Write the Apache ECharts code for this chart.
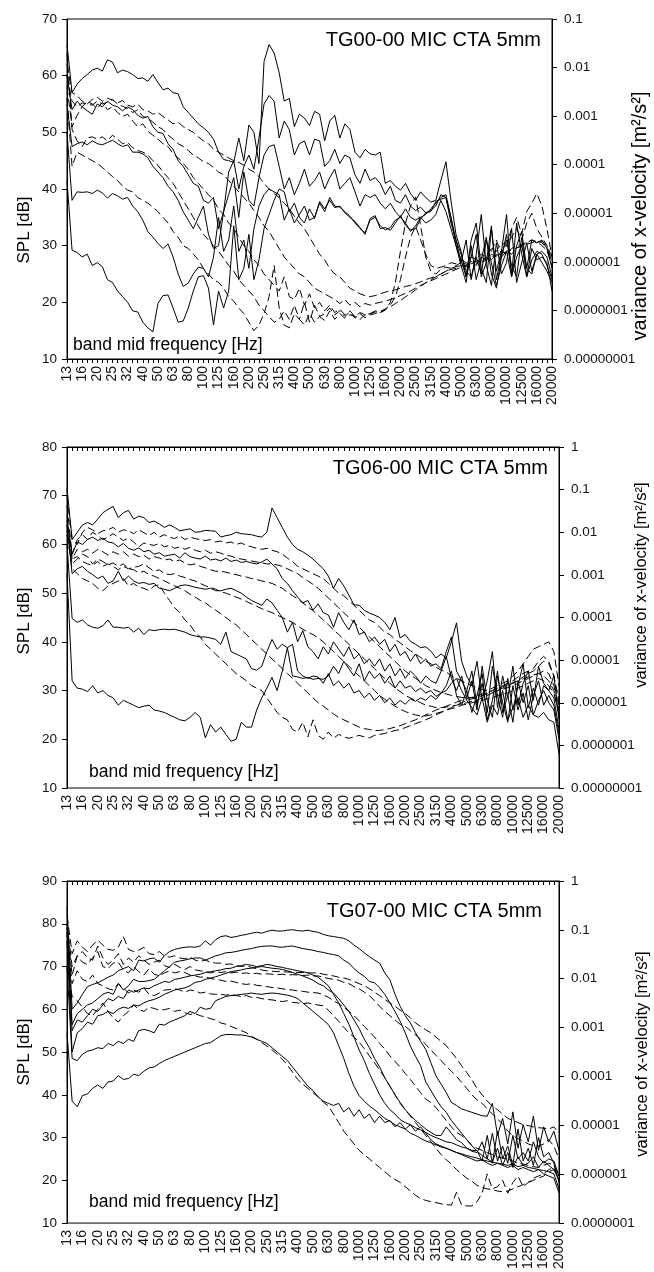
<!DOCTYPE html>
<html><head><meta charset="utf-8">
<script src="https://cdn.jsdelivr.net/npm/echarts@6/dist/echarts.min.js"></script>
<style>html,body{margin:0;padding:0;background:#fff}#c{width:654px;height:1272px}</style>
</head><body><div id="c"></div>
<script>
// x categories: 1/3-octave band labels, each subdivided into 3 steps
const freqLabels = ['13','16','20','25','32','40','50','63','80','100','125','160','200','250','315','400','500','630','800','1000','1250','1600','2000','2500','3150','4000','5000','6300','8000','10000','12500','16000','20000'];
const varianceTickLabels = ['0.00000001','0.0000001','0.000001','0.00001','0.0001','0.001','0.01','0.1','1'];
const titles = ['TG00-00 MIC CTA 5mm','TG06-00 MIC CTA 5mm','TG07-00 MIC CTA 5mm'];

// ---- Panel 1 (TG00-00) ----
const p1s1 = [65.5,57,58.5,59.5,60.2,61,61.3,60.8,62.8,62.4,
60.5,61,60.7,60.2,59.5,59.6,59,60.2,58.8,57.5,
57.8,57,56.8,54.5,53.5,52.5,51.5,50.8,50,48.8,
46.5,45.2,45,44.7,49,45,51.3,50,44.5,62.5,
65.5,64,60.5,55.5,56,51,53.2,52.5,51.2,53.7,
53.2,48.5,52,53,49,51.5,50.5,46.5,45.5,47,
46.2,46,46.5,41,41.5,40.5,39.8,41,39.2,38,
39.5,38.5,37.7,38,41.5,44.8,38,32,29,24.5,
31,34,26,23.5,33,25.5,29,35.5,24.5,30,
32.5,26,31,30.5,31,29.5,26];
const p1s2 = [60,54,55.5,54.5,53.8,53.2,55,54.5,55.5,54.8,
54.5,53.8,54.5,54,53,52.5,52.8,51,50,49.8,
48,47,45,44,42.5,41,40.5,38,37.5,38.5,
33,36,43,45,40,44,46,43.5,49,55,
56.5,55.5,49,52,50.5,46,48,48.5,46,48.8,
48.5,44,45,47,44.5,46,45.5,42.5,41,43.5,
41.5,42,41,39,40.5,38,37.5,39,37,36.2,
36.8,35.8,36.2,37,39,38.5,35,31,27,31,
24,28.5,35.5,26.5,23,30.5,25,27,33,23.5,
27,30.5,25.5,28.5,29,28,24.5];
const p1s3 = [55,47.5,48,48.3,47.8,48.5,48,47.8,48.2,48.6,
48,47.5,47.8,46.5,46.5,46.2,45.5,44,43,42,
40.5,39.5,38,36,34.5,33,35,37,32,29.5,
30,36,39,42,35,43,38,37,42,46,
47.5,47.8,44,40,42,39,41,43.5,40.5,41.5,
43,40,42,43.5,40,41,42,39.5,37,39,
38.5,39,37.5,36.5,37.5,36,35,36.5,35,34.5,
35,34,34.5,35.5,38,36,33,30,26.5,23.5,
30,24,27.5,31.5,25,22.5,28,32,25,34,
28.5,24.5,29.5,27.5,28,27,22];
const p1s4 = [50,38,39.5,39.4,39.5,39.2,39.8,39.3,38.4,39.2,
38.8,38.2,38.5,37,36,34.5,32.5,31.5,30.4,29.5,
30.3,28,25,22.8,23.4,25,26.2,26,24.5,28,
35,29,31,37,29,31,26,33,37,39,
40,39.5,39,34.5,36.5,34,35.5,37,34.5,35,
37.5,36,38.5,37,36.8,36,35.2,34,33,32.3,
34.5,35,33.5,32.8,33.2,34.5,35,34,32.5,33.5,
35,35.5,36.5,37.5,38.5,39,35,30,27.5,24.5,
28,32,24.5,27,33.5,24,28.5,31,26.5,24.5,
31.5,24.5,27.5,29,28.5,26.5,24];
const p1s5 = [41.5,29.2,28.8,28,28.5,26.5,27,26.3,24,23.5,
22,21,20,18.5,18.3,16.5,15.5,14.8,19.8,21.2,
21.3,19,16.5,16.7,19,22,24.5,24.7,22.5,16,
22,19,22,33.5,24,26,32,24,27.5,33,
35.5,38,40,39.5,36,37.5,35,34,36.5,34.8,
37.8,36.5,38,36.7,37,35.8,35,34.3,33.2,32,
34.8,35.3,33,33.2,32.7,34,35.3,33.6,32.8,33,
34.7,35.8,36,37.8,38.2,38.5,34,31,28.5,25.5,
24.5,28,25,31,27,23,26.5,29,24.5,28,
30,26,25,28.5,27,25.5,23.5];
const p1d1 = [62,57,56.5,55.5,55,55.8,56.2,55.5,56,55.7,
55.2,55.6,54.8,54.5,55,54,53.8,53.2,53.5,52.8,
52.2,51.5,51.8,51,50.5,50,49.2,48.5,48,47,
46.5,46,45.5,45,44.7,44.2,43.5,43,42.2,41,
40,39.2,38.5,37.5,36.5,35.2,34,33,31.5,30,
28.5,27.5,26,25,24.5,23.5,22.5,22,21.5,21.2,
21,21.2,21.5,21.8,22,22.2,22.5,22.8,23,23.3,
23.6,24,24.3,24.6,25,25.5,25.8,26,26.5,26.3,
26.8,27.2,27,27.5,28,28.3,28.5,29,29.3,29.6,
30,30.3,30.5,30.8,30.5,29.5,27.5];
const p1d2 = [60,55.5,54.5,55.2,55,54.8,55.5,55,55.3,55.8,
55,54.6,54.2,53.5,54,52.8,52.5,51.8,51,50.5,
49.5,48.8,48,47.5,46.8,46,45.5,44.8,44.5,43.8,
43,42.5,41.5,40.5,39.5,38.5,37.5,36.2,35,33.5,
32.5,31,29.5,28,27,26,25,24.5,23.5,22.5,
22,21.5,21,20.5,19.8,20.5,19.5,20,19.2,19.8,
19.5,19.8,20,20.2,20.5,20.8,21.2,21.6,22,22.5,
23,23.4,23.8,24.2,24.6,25,25.4,25.8,26.2,26.5,
27,26.5,28,27.5,28.5,28,29,28.5,29.5,30,
30.2,30.6,31,30.5,30.8,30,28];
const p1d3 = [58,51,53,54.5,55.5,55,54.2,55.3,54,54.5,
53.5,52.8,53.2,52,51,51.5,50.2,49.5,48.8,48,
47.5,46.2,45.5,44.5,43.5,42,41,40,39,38,
36.5,35.5,34,33,31.5,30,29,27.5,26.5,25,
24,23,22,24.5,21,20.5,22.5,19.5,21.5,19,
20,18.5,19.5,18.2,18.8,17.8,18.5,17.5,18.2,17.8,
18,18.3,18.2,18.6,20,23.5,29,34,37,38.6,
33.5,28,25.5,25,25.8,26.2,26,26.5,27,26.6,
27.2,26.8,28,27.5,29,31,28.5,30,33,35,
32,36,37.5,39.2,37,33,28];
const p1d4 = [64,50.5,48.5,47.5,49,49.2,48.8,49.2,48.5,49.5,
48.8,48,48.2,47.3,46.8,46.5,46,45,44.2,43,
42,41,39.5,38,36.5,35,33.5,32,31,30,
29,27.8,26.5,25.5,24,23,22,21,19.5,18.5,
17.5,16.5,17,18.5,17,19.5,17,16,18,16.5,
17.5,18,19,17.8,18.5,17.5,18.3,17.2,18,17.3,
17.8,18,18.4,18.8,19.5,21,24,28,31.5,33.4,
31,28.5,26.5,26,26.2,26.5,27,26.8,27.5,27,
28,27.6,28.5,28,29.5,29,30.5,30,31.5,33,
31,34,35.7,33,31.5,30,27];
const p1d5 = [56,44,46.5,46,45.5,45,44.5,43.8,43,42.2,
41.5,40.5,39.8,39.5,38.5,38,37.5,36.8,36,35,
34,32.5,31.5,30,29.5,28.5,27.5,26,25,24,
23.5,22.5,21,20.2,19,18,16.5,15,16,18,
21,26.5,19,16,15.5,18,17,20,16.5,19.5,
17.5,16.8,18.5,17,18,17.2,17.8,17.5,17,17.8,
18,18.5,18.2,18.8,19.2,19.8,20.3,21,21.5,22.2,
22.8,23.5,24,24.5,25,25.5,26,26.3,26.5,27,
26.5,27.5,27,28,27.5,28.5,28,29,28.5,29.5,
30,30.5,31,30.7,30,29.2,26.5];

// ---- Panel 2 (TG06-00) ----
const p2s1 = [71.5,61,62.5,64,64.5,64,65.2,66.5,67.2,67.8,
65.5,66.5,67,65.2,65.8,65.5,64.5,64.8,64.2,63.5,
64,63.5,62.8,63,63.2,62.5,62.6,62.9,62.8,62.7,
61.5,61.8,62,62.5,62.2,62.1,62,61.7,61.5,62.5,
67.5,65.5,63.5,61.5,60,59,58.5,57.8,57,56,
55,53.5,51,53,51.5,49.6,47.6,47.5,46.5,45.9,
45.5,45,44,42.5,45,40.8,41.5,40.1,39.5,38.8,
39,38.1,36.7,37.5,36.7,40,43.9,36,33,31,
36,28,32,38,26.5,33,28.5,35,27,31.5,
34,28,35,31.5,30,33,24];
const p2s2 = [65,58,60.5,60,61,61.5,60.8,61.3,60.5,60.3,
59.5,60.2,59.2,58.8,59.3,58.5,58.8,58,58.3,57.6,
57.8,58,57.2,58.3,57.5,57.2,57,57.6,56.8,57,
56.6,57.2,56.5,56.8,56.3,56.5,56.2,56,56.4,57,
56,55,53,52,50.5,49.2,48,48.5,46.5,47.8,
46,45.5,43,46,44,42.5,44.5,41.5,42,40,
41,39.5,40.5,38,39.5,37.2,38,36,37.5,35.5,
36.5,35,35.5,34.5,38,41,34,32,30,34,
27,31.5,25.5,35,29,24.5,32.5,26,31,35.5,
26.5,30.5,27,31,30,28.5,22];
const p2s3 = [64,54,55,55.5,54.5,53.8,53,53.5,52,52.5,
54.5,52.5,53.5,52.5,52,52.2,51.8,52,51,50.8,
50.5,51,51.5,51.7,51.5,51.2,51,50.8,51,50.5,
50.5,50.8,51,50.5,50,49.2,48.5,48,47.5,48.8,
48,46.5,45,42,44,40,42.3,39,38,36.5,
39,37.5,40,38.5,37,39,36.5,37.5,35.5,36.5,
35,36.5,34,35.5,33,34.5,32.5,34,33,31.5,
33,32,31.5,34,37,32.5,30,33,28.5,32,
26,35,28,24.5,33,27.5,23.5,31,26,29.5,
24,29,32,27,29,27,21];
const p2s4 = [60,44.8,44,44.5,43.5,43,42.8,43.3,44.5,43,
43,42.8,43,42,42.8,41.5,42.5,42.3,42.5,42.6,
42.5,42.6,42.3,42,41.5,41.2,41,41,40.8,40.5,
39.5,42,38,37.5,37,36.5,34.5,34.2,35,38,
40.5,38.5,39.5,38.8,33,32.8,32.5,32.7,32.3,32.5,
32.3,33,35,33.5,36,34.5,33,35.5,32,34,
32.5,33.5,31.5,33,30.5,32,30.5,31,29.8,30.5,
29.5,30,28.8,29.5,31,34,29,27,30,25.5,
29,33.5,24,28,34,25.5,29,23.5,32,27.5,
31,25,28,30,27.5,26,20];
const p2s5 = [54,32,30.5,30.3,29.8,31,29.5,30,29,28.5,
27,28,27.5,27,26.5,26.8,27,26,25.8,25.5,
25,24.5,24,23.8,24.5,25.5,24.5,20.3,23,21.5,
22.5,21,19.6,20,23.5,22.5,22.5,26,28.5,30.5,
32.7,30,34,38.8,39.5,34,33,32.5,33,32.8,
31.5,33.5,31,32,30.5,31.5,29.5,30,28.5,29.5,
28,29,27.5,28.5,27,28,27.2,28.3,27.8,28.5,
28,29,28.2,29.5,30,31.5,32.5,30,28,26.5,
25,28.5,23.5,27,25,30,24,26.5,28.5,24.5,
27,25,24.5,25.5,24,23.5,17];
const p2d1 = [70,61,60,62.5,63.5,63,62.2,62.8,63,63.5,
62.5,63,62.8,62.2,63,62.4,61.8,62.5,61.5,62,
61.5,61.2,61.8,61,61.5,61.2,61,60.8,61,60.5,
60.7,60.3,60.5,60,60.3,59.8,59.5,59.2,59,59.2,
58.8,58.5,58,57.2,56.5,55.5,55,54.5,54,53.5,
53,52,51,50,49.5,48.5,47.5,46.5,45.5,44.5,
44,43,42,41.5,40.5,39.8,39,38.2,37.5,36.8,
36,35.5,34.8,34.2,33.8,33,32.5,32,31.5,31,
30.5,30.2,30,30.5,31,31.5,32,33,34,35.5,
37,38.5,39,39.5,40,38,31];
const p2d2 = [68,58,61,62,61,62.5,61.8,61,61.5,62.2,
61.5,60.8,61.3,60.5,59.5,60.3,60,59.8,60.2,59.5,
59.8,59.2,59.5,59,59.4,58.8,58.5,58.8,58.2,58.5,
58.2,57.8,57.6,57.2,57,56.8,56.6,56.4,56.2,56,
56,55.8,55.5,55,54.5,54,53.2,52.5,51.8,51,
50,49,48,47,46,45,44,43,42,41,
40,39,38,37,36,35,34,33.2,32.5,31.8,
31,30.5,30,29.6,29.3,29,28.8,28.6,28.5,28.6,
28.5,29,29.5,30,30.5,31,31.5,32,32.8,33.5,
34,34.5,36,37,36,33,28];
const p2d3 = [66,57,59,58.5,59,58.2,59,58.5,57.8,58.5,
58,58.5,57.6,58,57.5,57.8,57,57.5,57.2,56.8,
57,56.5,56.8,56.2,55.8,56,55.5,55.2,54.8,54.5,
54.5,54.3,54,53.8,53.5,53.3,53,52.8,52.5,52.3,
52,51.5,51,50.2,49.5,48.8,48,47.2,46.4,45.5,
44.5,43.5,42.5,41.5,40.5,39.5,38.5,37.5,36.5,35.5,
34.5,33.5,32.5,31.5,30.5,29.8,29,28.5,28,27.5,
27,26.8,26.5,26.5,26.6,26.8,27,27.2,27.5,27.8,
28,28.5,29,29.5,30,30.5,31,31.5,32,32.8,
33.5,34,35,36,35.5,33,27];
const p2d4 = [64,57,57.5,56.5,56,55.7,56.5,55.5,56,55.5,
54.8,55.5,55,55.3,55.5,56,55.2,54.5,54.8,54,
53.8,54,53.5,53.2,52.8,52.5,52,51.5,51.2,50.8,
50.3,50,49.6,49.2,48.8,48.3,47.8,47.3,46.8,46.4,
46,45.5,45,44.5,44,43.3,42.6,42,41.5,40.8,
40,39,38,37,36,35,34,33,32,31,
30,29,28.2,27.5,26.8,26.2,25.7,25.3,25,24.8,
24.8,25,25.3,25.6,26,26.5,27,27.5,28,28.3,
28.5,29,29.3,29.6,30,30.3,30.6,31,31.5,32,
32.5,33,33.5,34,33.5,31,26];
const p2d5 = [62,55,54,53,52.5,52,51,50.5,51.5,52,
52.5,53,51.5,52,51.2,51,50.5,51.5,51.7,50,
48.5,47,46,44.5,43.5,42,41,39.5,38.5,37.5,
36.5,35.5,34.5,33.5,32.8,32,31,30.5,30,28.5,
27,25.5,24.5,24,22,21.5,23.5,20.5,24,20.8,
20,21.5,20.2,21,20.5,20.2,20.5,20.8,20.5,20.3,
20.8,21,21.2,21.5,21.8,22,22.4,22.8,23.2,23.6,
24,24.5,25,25.5,26,26.3,26.5,27,27.2,27.5,
27.8,28,28.3,28.5,29,29.3,29.5,30,30.5,31,
31.5,32,32.5,32,31,29.5,25];
const p2d6 = [63,56,57,58,57.5,56,57,56.5,55.8,56.2,
55.5,56,55,54.8,54.2,54.5,53.8,53.5,53,52.5,
52,51.5,51,50.5,49.8,49.2,48.5,48,47.2,46.5,
45.8,45,44.2,43.5,42.5,41.5,40.5,39.5,38.5,37.5,
36.5,35.5,34.5,33.5,32.5,31.5,30.5,29.5,28.5,27.5,
26.8,26,25.2,24.5,24,23.5,23,22.5,22.2,22,
21.8,21.8,22,22.2,22.5,22.8,23.2,23.6,24,24.5,
25,25.5,26,26.4,26.8,27.2,27.6,28,28.3,28.6,
29,29.3,29.6,30,30.4,30.8,31.2,31.6,32,32.4,
32.8,33.2,33.5,33,32,30,25];

// ---- Panel 3 (TG07-00) ----
const p3s1 = [84,60,61.5,63.5,65.3,65.8,66.2,66.8,67.5,68,
69,69.5,70,69,71.5,71.3,71.8,72,71,72.5,
73.5,74,74.3,74.5,74.6,74.5,74.8,76,75,76.3,
77,77.2,76.8,77,77.3,77.5,77.8,78,77.8,78.2,
78.5,78.3,78.3,78.5,78.6,78.4,78.3,78.5,78.2,78,
77.5,77.2,77,76.8,76.6,76,75,74.2,73.2,72.3,
71.5,70.8,68.5,66.9,63.5,60.7,58.5,56.8,54.5,52.5,
50.6,47.5,44.4,42.5,40.5,38.2,37.5,36.7,36.3,35.9,
35.5,35.1,35,38,30.5,34.5,28.5,36,27.5,33,
29,35,27,32.5,29,31.5,27];
const p3s2 = [80,56.4,59,60,61,61.5,62.5,63.5,64,63.5,
66,64.5,65.5,67,66.5,66.5,66.7,67,68,69,
70,71,71.3,71.5,71.8,72,72,71.5,72,72.5,
72.8,73.2,73.3,73.5,73.8,74,74.2,74.5,74.7,74.8,
74.8,74.6,74.5,74.7,74.8,74.5,74.2,74,73.8,73.5,
73.3,73,72.8,72.5,71.5,70.8,69.5,68.5,67.7,66.5,
66.2,65,63.5,61.5,59.5,57.2,54.5,51.4,49,46.8,
43,41,39,37.2,35.9,34,32.5,31,29.5,28.1,
26.8,25.8,25,24.3,27.5,23.5,26.5,23,25.5,23.5,
24,25.5,23,24.5,23.5,22.5,20];
const p3s3 = [78,55,57.5,57,58.5,60,59.5,61,62.5,62,
63,62.5,64.5,64,64.5,65,64.8,65.5,66,66.5,
66.3,67,67.2,67.5,67.8,68,68.2,68.6,68.8,69,
69.2,69.5,69.6,70,70.2,70.5,70.3,70,70.2,70.5,
70.3,70,69.8,69.5,69.3,69,68.8,68.5,68,67.5,
66.5,65.5,63.5,61.5,59,56.5,53.5,50.5,48,45,
42.5,40,38,36.5,35.5,34.2,33.5,33,32.3,31.8,
31.2,30.5,30,29.5,29,28.8,28.3,27.8,27.5,27,
27,24.5,30.5,24,31.5,25,28,23.5,32,24.5,
27.5,23.5,30,25.5,26.5,24,19.5];
const p3s4 = [76,50,54.5,55.5,57,56.5,58.5,58.8,59.5,59,
60,60.5,60.2,61,60.8,61.5,62,62.3,62.8,63.5,
64,64.5,64.8,65,65.5,66.3,66.5,67,67.3,67.6,
68,68.4,68.8,69,69.2,69.5,69.6,69.8,70,69.8,
69.6,69.5,69.3,69,68.6,68.2,67.8,67.3,66.8,66,
65.5,64.5,63.8,62.5,61,59.5,57.5,55.5,53,51,
48.5,46.5,44,42,40,38.2,36.5,35.2,34,33,
32,31.2,30.5,30.5,32.5,31,29.5,28.8,27.5,26.8,
26.5,29,25,31,24.5,28,24,30.5,25,26.5,
24.5,29,25.5,24,25,24.5,21];
const p3s5 = [70,48.5,48,49.5,50.2,50.5,51,50.8,52,51.5,
52.5,52,53,52.5,55,55.3,55,54.5,56.5,56.3,
57,57.5,58,58.5,59.5,59,60.5,60,60.2,62,
62.5,63,63.2,63.3,63.5,63.6,63.8,63.6,63.5,63.7,
63.8,63.7,63.5,63.3,63,62.5,61.5,60.5,59.5,58.5,
57.5,56.4,54.5,51.5,48.5,45,42,39.8,38.5,37.4,
36.5,35.5,34.5,33.8,33,32.5,32,31,30.5,29.8,
29.2,28.8,28.3,27.8,27.5,27,26.5,26.2,25.8,25.5,
25.2,24.8,24.5,24.2,24,23.8,23.5,23.8,23.2,23.5,
23,22.8,22.5,22.3,22,21.5,18];
const p3s6 = [54.5,38.5,37.2,39.8,40.2,41.5,42.3,41.5,43,43.2,
44.5,43.6,43.8,44.8,44.5,45.5,46.3,46.5,47.3,48,
48.5,49,49.5,50,50.5,51,51.5,52,52.2,53,
53.8,54.1,54.1,54,54,53.8,53.5,53,52.5,52,
51,50,49,48,46.5,45,43.5,42,41,39.5,
38.5,38,37.5,38,36,37,35,36.5,34.5,35.5,
33.5,35,33.5,34,32.5,33.5,32,33,31.5,32.5,
31,29.5,28.5,28,27.5,27,26.5,26,25.5,25,
24.5,24.8,24,23.5,24,23.5,23,23.5,22.5,23,
22.5,22,22.5,21.5,21,20.5,17];
const p3d1 = [82,73,76,74.5,73.5,75,76.2,75,74,73.8,
74.5,77,74,73.5,73.8,74.5,73,72.8,73.5,72.5,
72.2,72.5,72,71.8,72.2,71.5,71.2,71.5,71,70.8,
70.8,70.5,70.6,70.2,70,70.2,69.8,69.5,69.2,69,
68.9,68.8,68.8,68.7,68.7,68.6,68.6,68.5,68.5,68.5,
68.2,68,67.8,67.5,67.3,67,66.5,66,65.5,64.8,
64,63.2,62.3,61.5,60.7,59.8,59,58,56.8,56,
55.2,54.5,53.5,52.5,51.5,50,48.5,46.8,45.2,43.5,
41.5,40,38.5,37.4,36.5,35.5,34.5,34,33.5,33,
32.8,32.5,32.3,32.2,32,32.5,31];
const p3d2 = [80,70,72.5,73.5,72,71.5,74.8,72,70.5,71.5,
73,70.5,72,71,72.5,71.5,70.5,71,71.5,70.2,
69.8,70.5,69.8,69.3,70,69.2,69,68.8,68.5,68.8,
68.6,68.8,68.5,68.7,68.4,68.5,68.3,68.4,68.2,68.3,
68.2,68.1,68.2,68,68.1,68,67.9,68,67.8,67.8,
67.5,67.2,67,66.8,66.3,66,65.3,64.8,64,63.2,
62,60.7,59.5,58.5,57.5,56.5,56,55,54,53,
51.8,50.5,49.2,48,46.7,45.5,44.3,42.9,41.5,40,
38.8,38,36.7,35.5,34.3,33.2,31.5,30.5,29.7,29.2,
28.5,28.1,28,28.5,29.5,28,25];
const p3d3 = [79,68,72.5,71,70.5,72,73.5,70,69.5,70.8,
71,69.2,68.5,70,68.8,68,69.5,68.2,67.8,68.5,
69,68.5,68.8,68.6,68,67.8,67.5,67.6,67.2,67,
66.8,66.5,66.6,66.3,66,65.8,66,65.6,65.5,65.3,
65.1,65,64.8,64.6,64.5,64.3,64.2,64,63.9,63.8,
63.4,62.8,62,61.3,60.5,59.5,58.5,57.3,56,54.8,
53.5,52,50.7,49.1,47.8,46.5,45,43.6,42,40.5,
39,38.2,37,35.5,34,32.5,31.2,30.5,29.5,28.1,
27.5,27,26.5,26,25.5,25.2,25,24.5,24,23.8,
23.5,23.2,23,23.5,24,23.5,21];
const p3d4 = [78,66,69,67,66.5,68,66,65.5,64.8,64.5,
66,65,63.8,64.5,64,65,63.5,63.2,63.8,64.5,
64.6,64.8,64.5,64,64.5,64.3,63.8,64,63.6,63.5,
63.5,63.3,63.5,63.2,63,63.2,62.8,62.8,62.5,62.3,
62.2,62,61.8,62,61.6,61.5,61.3,61.5,61.2,61,
60.8,59.8,58.5,57.2,55.8,54.5,53.5,52.3,50.8,49.1,
47.5,45.8,44,42,40,38,36.5,35,33.5,32,
30.5,29,27.5,26,24.8,23.8,22.5,21.5,20.5,19.8,
18.8,18.3,18,17.8,17.5,17.3,17.5,18,18.5,19,
19.5,20,20.5,21,22,22.5,21];
const p3d5 = [70,63,62,60.5,59,58.5,60,61.5,59.5,58,
57,58.5,59.5,61,60,59.5,60.5,60.2,59.8,59.9,
60.2,59.5,59.8,59.2,58.8,59,58.5,58.2,57.8,57.5,
56.8,56.5,56,55.5,55,54.5,53.7,53,52.2,51.4,
50.5,49.5,48.3,47,45.3,43.6,42.5,41.5,40.5,39.5,
38.3,37.4,35.5,33.5,31.5,30,28.5,27,26,25,
24,23,22,21,20.2,19.5,18.5,17.5,16.5,15.7,
15.3,15,14.8,14.5,14.3,14.2,17.2,14.2,14,14,
15,17,21.5,18,18.5,20,17,19.5,21,18.5,
19.5,20.5,21,21.5,22.5,23,20];

const panels = [
  {solid:[p1s1,p1s2,p1s3,p1s4,p1s5], dashed:[p1d1,p1d2,p1d3,p1d4,p1d5], yMin:10, yMax:70, vMin:-8, vMax:-1},
  {solid:[p2s1,p2s2,p2s3,p2s4,p2s5], dashed:[p2d1,p2d2,p2d3,p2d4,p2d5,p2d6], yMin:10, yMax:80, vMin:-8, vMax:0},
  {solid:[p3s1,p3s2,p3s3,p3s4,p3s5,p3s6], dashed:[p3d1,p3d2,p3d3,p3d4,p3d5], yMin:10, yMax:90, vMin:-7, vMax:0}
];

// categories built from the band labels (3 steps per 1/3-octave band)
const categories = [];
freqLabels.forEach((f, k) => {
  categories.push(f);
  if (k < freqLabels.length - 1) { categories.push(f + '|1'); categories.push(f + '|2'); }
});

const FONT = "'Liberation Sans', Arial, sans-serif";
const layout = [
  {left:67, top:19, width:485, height:340},
  {left:67, top:447, width:492, height:341},
  {left:67, top:881, width:492, height:343}
];

const grid = [], xAxis = [], yAxis = [], series = [];
panels.forEach((p, k) => {
  grid.push(Object.assign({show:true, borderColor:'#000', borderWidth:1, backgroundColor:'transparent'}, layout[k]));
  xAxis.push({
    type:'category', gridIndex:k, data:categories, boundaryGap:false,
    axisLine:{lineStyle:{color:'#000', width:1}},
    axisTick:{interval:0, length:4, lineStyle:{color:'#000'}},
    axisLabel:{interval:0, rotate:90, margin:7, fontSize:14, color:'#111', fontFamily:FONT,
      formatter: v => v.indexOf('|') >= 0 ? '' : v},
    splitLine:{show:false}
  });
  yAxis.push({
    type:'value', gridIndex:k, min:p.yMin, max:p.yMax, interval:10, position:'left',
    axisLine:{show:true, lineStyle:{color:'#000'}},
    axisTick:{show:true, length:5, lineStyle:{color:'#000'}},
    axisLabel:{fontSize:13.5, color:'#111', fontFamily:FONT, margin:10},
    splitLine:{show:false}
  });
  yAxis.push({
    type:'value', gridIndex:k, min:p.vMin, max:p.vMax, interval:1, position:'right',
    axisLine:{show:true, lineStyle:{color:'#000'}},
    axisTick:{show:true, length:5, lineStyle:{color:'#000'}},
    axisLabel:{fontSize:13.5, color:'#111', fontFamily:FONT, margin:12,
      formatter: v => varianceTickLabels[Math.round(v) + 8]},
    splitLine:{show:false}
  });
  const mk = (d, dashed) => ({
    type:'line', xAxisIndex:k, yAxisIndex:k*2, data:d, symbol:'none', silent:true,
    lineStyle:{color:'#000', width:1, type: dashed ? [8,4] : 'solid'}
  });
  p.solid.forEach(d => series.push(mk(d, false)));
  p.dashed.forEach(d => series.push(mk(d, true)));
});

const txt = (text, x, y, size, opts) => Object.assign({
  type:'text', x:x, y:y, silent:true,
  style:{text:text, font: size + 'px ' + FONT, fill:'#000',
    textAlign:(opts && opts.align) || 'left', textVerticalAlign:'middle',
    align:(opts && opts.align) || 'left', verticalAlign:'middle'}
}, opts && opts.rot ? {rotation: opts.rot} : {});

const graphic = [
  txt(titles[0], 541, 40, 20, {align:'right'}),
  txt(titles[1], 548, 468, 20, {align:'right'}),
  txt(titles[2], 542, 911, 20, {align:'right'}),
  txt('band mid frequency [Hz]', 73, 345, 17.5),
  txt('band mid frequency [Hz]', 89, 772, 17.5),
  txt('band mid frequency [Hz]', 89, 1202, 17.5),
  txt('SPL [dB]', 24, 230, 17, {align:'center', rot:Math.PI/2}),
  txt('SPL [dB]', 24.5, 621, 17, {align:'center', rot:Math.PI/2}),
  txt('SPL [dB]', 24.5, 1052, 17, {align:'center', rot:Math.PI/2}),
  txt('variance of x-velocity [m²/s²]', 640, 216, 20, {align:'center', rot:Math.PI/2}),
  txt('variance of x-velocity [m²/s²]', 641, 585, 16.5, {align:'center', rot:Math.PI/2}),
  txt('variance of x-velocity [m²/s²]', 642, 1054, 16.5, {align:'center', rot:Math.PI/2})
];

const chart = echarts.init(document.getElementById('c'), null, {renderer:'canvas'});
chart.setOption({animation:false, backgroundColor:'#fff', grid, xAxis, yAxis, series, graphic});
</script></body></html>
